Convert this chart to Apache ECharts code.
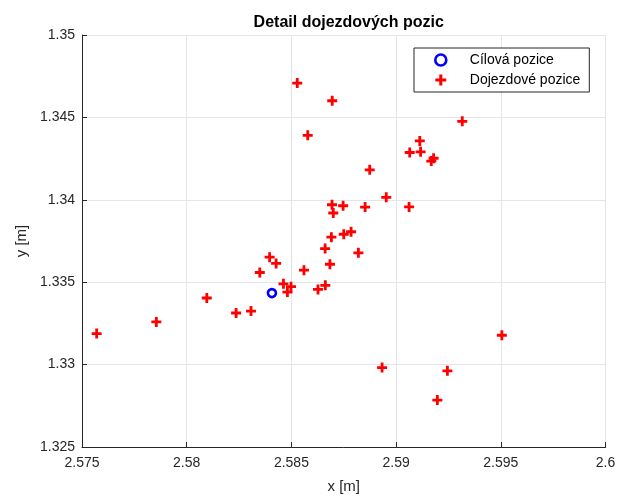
<!DOCTYPE html>
<html>
<head>
<meta charset="utf-8">
<script src="https://cdn.jsdelivr.net/npm/echarts@6/dist/echarts.min.js"></script>
<style>
  html, body { margin: 0; padding: 0; background: #ffffff; }
  #chart { width: 619px; height: 499px; }
</style>
</head>
<body>
<div id="chart"></div>
<script>
// Target position
const targetX = [2.58407];
const targetY = [1.33434];

// Measured arrival positions
const arrivalX = [
  2.58528, 2.58695, 2.59316, 2.58578, 2.59113, 2.59065, 2.59117, 2.59179, 2.59168, 2.58874,
  2.58953, 2.58694, 2.58747, 2.58700, 2.58852, 2.59062, 2.58691, 2.58750, 2.58785, 2.58661,
  2.58820, 2.58396, 2.58427, 2.58684, 2.58349, 2.58560, 2.58462, 2.58498, 2.58481, 2.58627,
  2.58662, 2.58307, 2.58236, 2.58096, 2.57855, 2.57570, 2.59505, 2.58933, 2.59245, 2.59197
];
const arrivalY = [
  1.34708, 1.34601, 1.34476, 1.34391, 1.34357, 1.34287, 1.34291, 1.34252, 1.34235, 1.34182,
  1.34015, 1.33970, 1.33964, 1.33920, 1.33956, 1.33957, 1.33773, 1.33791, 1.33806, 1.33704,
  1.33678, 1.33652, 1.33614, 1.33609, 1.33559, 1.33573, 1.33490, 1.33473, 1.33440, 1.33456,
  1.33481, 1.33325, 1.33313, 1.33404, 1.33259, 1.33188, 1.33178, 1.32982, 1.32962, 1.32785
];

// Axis ranges and ticks
const xTicks = [2.575, 2.58, 2.585, 2.59, 2.595, 2.6];
const yTicks = [1.325, 1.33, 1.335, 1.34, 1.345, 1.35];

const titleText = 'Detail dojezdových pozic';
const legendNames = ['Cílová pozice', 'Dojezdové pozice'];

const zip = (xs, ys) => xs.map((x, i) => [x, ys[i]]);

// Thick plus marker
const plusPath = 'path://M-1.4,-5H1.4V-1.4H5V1.4H1.4V5H-1.4V1.4H-5V-1.4H-1.4Z';

const axisColor = '#262626';
const gridColor = '#e5e5e5';
const font = 'Liberation Sans, Arial, Helvetica, sans-serif';

const gridLeft = 82, gridRight = 13.5;

const ringStyle = { color: '#ffffff', borderColor: '#0000ff', borderWidth: 2.6, opacity: 1 };
const plusStyle = { color: '#ff0000', borderWidth: 0, opacity: 1 };

const chart = echarts.init(document.getElementById('chart'), null, { renderer: 'canvas' });

chart.setOption({
  animation: false,
  backgroundColor: '#ffffff',
  title: {
    text: titleText,
    left: (gridLeft + 619 - gridRight) / 2,
    textAlign: 'center',
    top: 10,
    textStyle: { fontFamily: font, fontSize: 16, fontWeight: 'bold', color: '#000000' }
  },
  grid: { left: gridLeft, right: gridRight, top: 35, bottom: 50.5, containLabel: false },
  legend: {
    orient: 'vertical',
    align: 'left',
    left: 414,
    top: 48,
    padding: [5, 9, 5, 20],
    itemGap: 6,
    itemWidth: 18,
    itemHeight: 11,
    borderColor: '#262626',
    borderWidth: 1,
    backgroundColor: '#ffffff',
    textStyle: { fontFamily: font, fontSize: 14, color: '#000000', padding: [0, 0, 0, 15] },
    data: [
      { name: legendNames[0], icon: 'circle', itemStyle: ringStyle },
      { name: legendNames[1], icon: plusPath, itemStyle: plusStyle }
    ]
  },
  xAxis: {
    type: 'value',
    min: xTicks[0],
    max: xTicks[xTicks.length - 1],
    interval: 0.005,
    name: 'x [m]',
    nameLocation: 'middle',
    nameGap: 32,
    nameTextStyle: { fontFamily: font, fontSize: 15, color: axisColor },
    axisLine: { show: true, onZero: false, lineStyle: { color: axisColor, width: 1 } },
    axisTick: { show: true, inside: true, length: 5, lineStyle: { color: axisColor } },
    axisLabel: {
      fontFamily: font, fontSize: 14, color: axisColor, margin: 9,
      formatter: v => String(parseFloat(v.toFixed(3)))
    },
    splitLine: { show: true, lineStyle: { color: gridColor, width: 1 } }
  },
  yAxis: {
    type: 'value',
    min: yTicks[0],
    max: yTicks[yTicks.length - 1],
    interval: 0.005,
    name: 'y [m]',
    nameLocation: 'middle',
    nameGap: 50,
    nameRotate: 90,
    nameTextStyle: { fontFamily: font, fontSize: 15, color: axisColor },
    axisLine: { show: true, onZero: false, lineStyle: { color: axisColor, width: 1 } },
    axisTick: { show: true, inside: true, length: 5, lineStyle: { color: axisColor } },
    axisLabel: {
      fontFamily: font, fontSize: 14, color: axisColor, margin: 7,
      formatter: v => String(parseFloat(v.toFixed(3)))
    },
    splitLine: { show: true, lineStyle: { color: gridColor, width: 1 } }
  },
  series: [
    {
      name: legendNames[0],
      type: 'scatter',
      data: zip(targetX, targetY),
      symbol: 'circle',
      symbolSize: 8,
      itemStyle: ringStyle,
      z: 3
    },
    {
      name: legendNames[1],
      type: 'scatter',
      data: zip(arrivalX, arrivalY),
      symbol: plusPath,
      symbolSize: 10,
      itemStyle: plusStyle,
      z: 4
    }
  ]
});
</script>
</body>
</html>
